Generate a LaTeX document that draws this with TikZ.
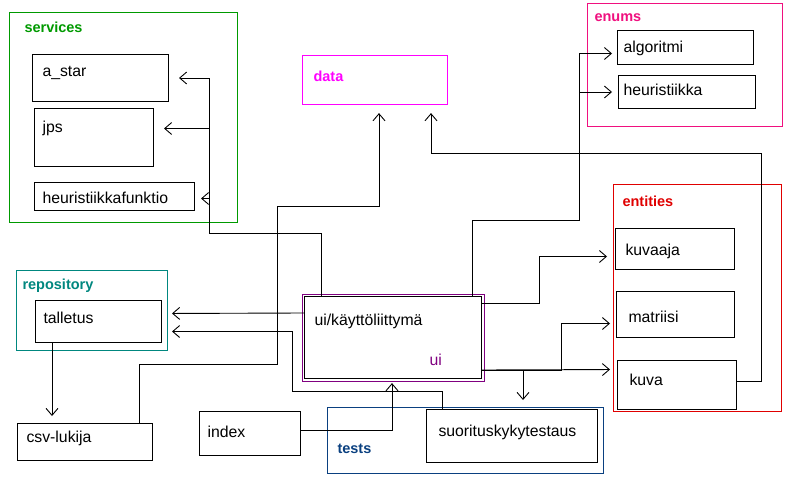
\documentclass[tikz,border=0pt]{standalone}
\usepackage{fontspec}
\setmainfont{Liberation Sans}
\usetikzlibrary{arrows.meta}
\definecolor{svcgreen}{HTML}{009A00}
\definecolor{datamag}{HTML}{FF00FF}
\definecolor{enumpink}{HTML}{F0107F}
\definecolor{entred}{HTML}{E00000}
\definecolor{repoteal}{HTML}{00877F}
\definecolor{testblue}{HTML}{0A4080}
\definecolor{uipurple}{HTML}{800080}

\begin{document}
\begin{tikzpicture}[x=1pt, y=-1pt, line width=1pt,
    box/.style={draw, rectangle, anchor=north west, inner sep=0pt},
    pkg/.style={box, line width=1.1pt},
    txt/.style={anchor=base west, inner sep=0pt, font=\fontsize{15.8}{18}\selectfont},
    pkglabel/.style={anchor=base west, inner sep=0pt, font=\bfseries\fontsize{14.5}{17}\selectfont},
    dep/.style={-{Straight Barb[length=7pt,width=12pt]}, line width=0.9pt}]
    \useasboundingbox[fill=white] (0,0) rectangle (802,481);

    \node[pkg, draw=svcgreen, minimum width=228, minimum height=210] (services) at (9,12) {};
    \node[pkglabel, text=svcgreen] (services-l) at (24,33) {services};
    \node[box, minimum width=136, minimum height=47] (astar) at (32,54) {};
    \node[txt] (astar-t) at (42,77) {a\_star};
    \node[box, minimum width=119, minimum height=58] (jps) at (34,108) {};
    \node[txt] (jps-t) at (42,133) {jps};
    \node[box, minimum width=160, minimum height=28] (heurf) at (34,182) {};
    \node[txt] (heurf-t) at (42,203) {heuristiikkafunktio};

    \node[pkg, draw=datamag, minimum width=145, minimum height=49] (data) at (302,55) {};
    \node[pkglabel, text=datamag] (data-l) at (313,82) {data};

    \node[pkg, draw=enumpink, minimum width=195, minimum height=123] (enums) at (587,3) {};
    \node[pkglabel, text=enumpink] (enums-l) at (594,22) {enums};
    \node[box, minimum width=136, minimum height=34] (algoritmi) at (617,30) {};
    \node[txt] (algoritmi-t) at (623,53) {algoritmi};
    \node[box, minimum width=137, minimum height=33] (heuristiikka) at (618,75) {};
    \node[txt] (heuristiikka-t) at (623,96) {heuristiikka};

    \node[pkg, draw=entred, minimum width=168, minimum height=227] (entities) at (613,184) {};
    \node[pkglabel, text=entred] (entities-l) at (622,206) {entities};
    \node[box, minimum width=119, minimum height=41] (kuvaaja) at (615,228) {};
    \node[txt] (kuvaaja-t) at (625,255) {kuvaaja};
    \node[box, minimum width=118, minimum height=46] (matriisi) at (616,291) {};
    \node[txt] (matriisi-t) at (628,322) {matriisi};
    \node[box, minimum width=119, minimum height=49] (kuva) at (617,360) {};
    \node[txt] (kuva-t) at (629,385) {kuva};

    \node[pkg, draw=repoteal, minimum width=151, minimum height=80] (repository) at (16,270) {};
    \node[pkglabel, text=repoteal] (repository-l) at (22,289) {repository};
    \node[box, minimum width=126, minimum height=42] (talletus) at (35,300) {};
    \node[txt] (talletus-t) at (43,323) {talletus};

    \node[box, minimum width=135, minimum height=37] (csv) at (17,423) {};
    \node[txt] (csv-t) at (26,442) {csv-lukija};
    \node[box, minimum width=101, minimum height=44] (index) at (199,411) {};
    \node[txt] (index-t) at (207,437) {index};

    \node[pkg, draw=testblue, minimum width=276, minimum height=66] (tests) at (327,407) {};
    \node[pkglabel, text=testblue] (tests-l) at (337,453) {tests};
    \node[box, minimum width=171, minimum height=53] (suoritus) at (426,409) {};
    \node[txt] (suoritus-t) at (438,436) {suorituskykytestaus};

    \node[pkg, draw=uipurple, minimum width=182, minimum height=87] (uipkg) at (302,294) {};
    \node[box, minimum width=177, minimum height=82] (ui) at (304,296) {};
    \node[txt] (ui-t) at (314,325) {ui/käyttöliittymä};
    \node[txt, text=uipurple] (ui-l) at (429,365) {ui};

    \coordinate (svcbus) at (209,233);
    \draw[dep, shorten >=10pt] ([xshift=17]ui.north west) |- (svcbus) |- (astar.east);
    \draw[dep, shorten >=10pt] (svcbus) |- ([yshift=9]jps.east);
    \draw[dep, shorten >=6pt] (svcbus) |- ([yshift=-2]heurf.east);

    \draw[dep, shorten >=8pt] ([xshift=122]csv.north west) |- (277,364) |- (379,206) -- ([xshift=77]data.south west);
    \draw[dep, shorten >=8pt] ([yshift=4]kuva.east) -| (761,153) -| ([xshift=129]data.south west);

    \coordinate (enumbus) at (579,220);
    \draw[dep, shorten >=5pt] ([xshift=168]ui.north west) |- (enumbus) |- ([yshift=-6]algoritmi.west);
    \draw[dep, shorten >=6pt] (enumbus) |- (heuristiikka.west);

    \draw[dep, shorten >=8pt] ([yshift=-7]ui.north east) -- ++(57,0) |- ([yshift=-7.5]kuvaaja.west);
    \draw[dep, shorten >=7pt] ([yshift=9]ui.south east) -- ([yshift=15.5]kuva.west);
    \draw[dep, shorten >=6pt] ([yshift=9]ui.south east) -- ++(79,0) |- ([yshift=-9]matriisi.west);
    \draw[dep, shorten >=7pt] ([yshift=9]ui.south east) -| ([xshift=196]tests.north west);

    \draw[dep, shorten >=1pt] ([yshift=3]index.east) -| ([xshift=90]uipkg.south west);
    \draw[dep, shorten >=10pt] ([yshift=-17]ui.north west) -- ([yshift=8]talletus.east);
    \draw[dep, shorten >=10pt] ([xshift=16]suoritus.north west) |- (292,391) |- ([yshift=-10]talletus.east);
    \draw[dep, shorten >=7pt] ([xshift=17]talletus.south west) -- ([xshift=35]csv.north west);
\end{tikzpicture}
\end{document}
